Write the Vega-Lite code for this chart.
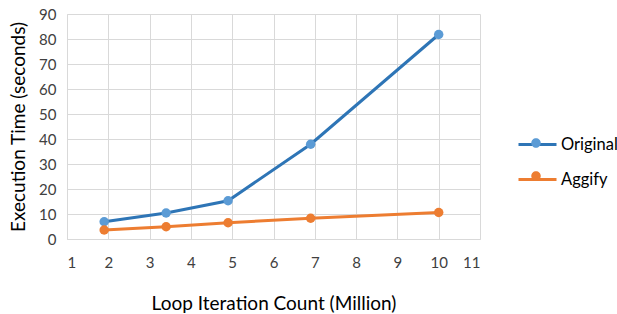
{
  "$schema": "https://vega.github.io/schema/vega-lite/v6.json",
  "width": 413,
  "height": 225,
  "autosize": {"type": "none"},
  "padding": {"left": 67, "top": 14, "right": 137, "bottom": 75},
  "background": "white",
  "config": {
    "font": "Lato",
    "view": {"stroke": null},
    "axis": {
      "labelFont": "Lato", "labelFontSize": 15, "labelColor": "#404040",
      "titleFont": "Lato", "titleFontSize": 19, "titleFontWeight": "normal", "titleColor": "#000000",
      "gridColor": "#d9d9d9", "gridWidth": 1,
      "domainColor": "#d9d9d9", "ticks": false
    }
  },
  "data": {
    "values": [
      {"series": "Original", "name": "Original", "x": 1.9, "y": 6.9},
      {"series": "Original", "name": "Original", "x": 3.4, "y": 10.4},
      {"series": "Original", "name": "Original", "x": 4.9, "y": 15.3},
      {"series": "Original", "name": "Original", "x": 6.9, "y": 37.9},
      {"series": "Original", "name": "Original", "x": 10, "y": 81.8},
      {"series": "Aggify", "name": "Aggify", "x": 1.9, "y": 3.6},
      {"series": "Aggify", "name": "Aggify", "x": 3.4, "y": 4.9},
      {"series": "Aggify", "name": "Aggify", "x": 4.9, "y": 6.5},
      {"series": "Aggify", "name": "Aggify", "x": 6.9, "y": 8.3},
      {"series": "Aggify", "name": "Aggify", "x": 10, "y": 10.6}
    ]
  },
  "encoding": {
    "x": {
      "field": "x", "type": "quantitative",
      "scale": {"domain": [1, 11], "nice": false},
      "axis": {"values": [1,2,3,4,5,6,7,8,9,10,11], "title": "Loop Iteration Count (Million)", "labelPadding": 16, "titlePadding": 24}
    },
    "y": {
      "field": "y", "type": "quantitative",
      "scale": {"domain": [0, 90], "nice": false},
      "axis": {"values": [0,10,20,30,40,50,60,70,80,90], "title": "Execution Time (seconds)", "labelPadding": 11, "titlePadding": 10}
    }
  },
  "layer": [
    {
      "mark": {"type": "line", "strokeWidth": 3},
      "encoding": {
        "stroke": {
          "field": "series", "type": "nominal",
          "scale": {"domain": ["Original", "Aggify"], "range": ["#2E75B6", "#ED7D31"]},
          "legend": {
            "title": null, "orient": "none", "legendX": 459.5, "legendY": 119.5,
            "padding": 0, "symbolType": "M-2,0H2", "symbolSize": 361,
            "symbolStrokeWidth": 3, "symbolFillColor": "transparent",
            "labelFont": "Lato", "labelFontSize": 16.5, "labelColor": "#000000",
            "labelOffset": 12.5, "rowPadding": 15
          }
        }
      }
    },
    {
      "mark": {"type": "point", "filled": true, "size": 90, "opacity": 1},
      "encoding": {
        "fill": {
          "field": "name", "type": "nominal", "sort": ["Original", "Aggify"],
          "scale": {"range": ["#5B9BD5", "#ED7D31"]},
          "legend": {
            "title": null, "orient": "none", "legendX": 459.5, "legendY": 119.5,
            "padding": 0, "symbolType": "M-0.5,0A0.5,0.5,0,1,1,0.5,0A0.5,0.5,0,1,1,-0.5,0Z", "symbolSize": 361,
            "symbolStrokeWidth": 0, "symbolOpacity": 1,
            "labelFont": "Lato", "labelFontSize": 16.5, "labelColor": "#000000", "labelOpacity": 0,
            "labelExpr": "''",
            "labelOffset": 12.5, "rowPadding": 15
          }
        }
      }
    }
  ]
}
